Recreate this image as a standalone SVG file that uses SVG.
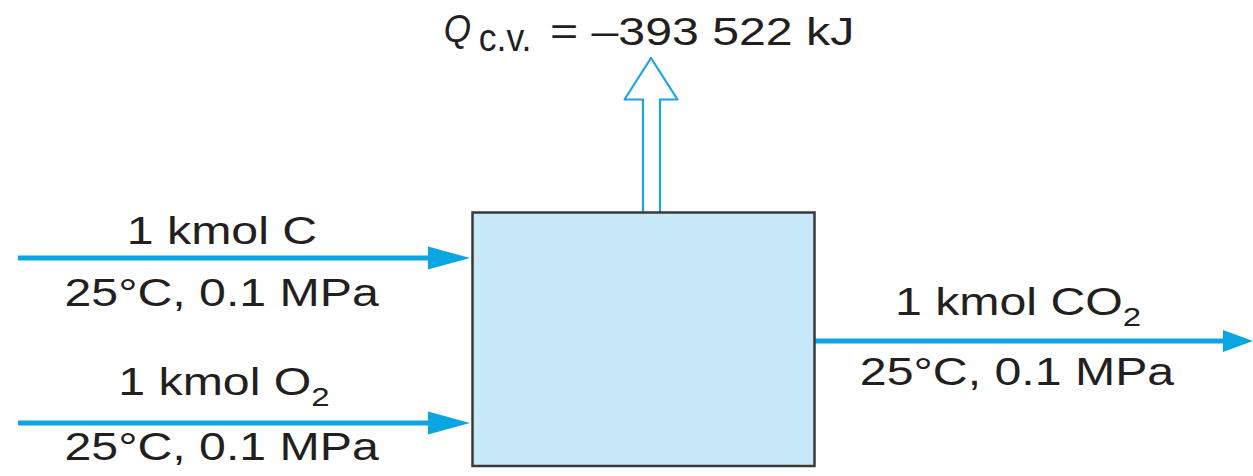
<svg xmlns="http://www.w3.org/2000/svg" width="1253" height="476" viewBox="0 0 1253 476">
<style>
  .lbl { font-family: "Liberation Sans", Arial, sans-serif; font-size: 38px; fill: #231f20; }
  .sub { font-size: 26px; }
  .flow { stroke: #0aa6e2; stroke-width: 5; fill: none; }
  .head { fill: #0aa6e2; }
</style>
<rect width="1253" height="476" fill="#ffffff"/>
<g id="connectors">
  <line class="flow" x1="18" y1="258" x2="432" y2="258"/>
  <polygon class="head" points="428,246.5 470,258 428,269.5"/>
  <line class="flow" x1="18" y1="423" x2="432" y2="423"/>
  <polygon class="head" points="428,411.5 470,423 428,434.5"/>
  <line class="flow" x1="815" y1="341" x2="1226" y2="341"/>
  <polygon class="head" points="1223,330 1253,341 1223,352"/>
  <polygon points="643,213 643,99.5 624.5,99.5 651,58 677.5,99.5 660,99.5 660,213" fill="#ffffff" stroke="#1aa6dc" stroke-width="2.2" stroke-linejoin="round"/>
</g>
<g id="control-volume">
  <rect x="472.5" y="212.5" width="342" height="253.5" fill="#c8e9f8" stroke="#3a3a3a" stroke-width="2.5"/>
</g>
<g id="heat-label" transform="scale(1.27,1)">
  <text class="lbl" x="349.5" y="42" font-size="36" font-style="italic" textLength="21.5" lengthAdjust="spacingAndGlyphs">Q</text>
  <text class="lbl" x="377" y="51" font-size="27" textLength="41.5" lengthAdjust="spacingAndGlyphs">c.v.</text>
  <text class="lbl" x="433" y="45">= –393 522 kJ</text>
</g>
<g id="inlet-C" transform="scale(1.27,1)">
  <text class="lbl" x="174.8" y="244" text-anchor="middle">1 kmol C</text>
  <text class="lbl" x="174.5" y="306" text-anchor="middle">25°C, 0.1 MPa</text>
</g>
<g id="inlet-O2" transform="scale(1.27,1)">
  <text class="lbl" x="176.4" y="395" text-anchor="middle">1 kmol O<tspan class="sub" dy="11">2</tspan></text>
  <text class="lbl" x="174.5" y="460" text-anchor="middle">25°C, 0.1 MPa</text>
</g>
<g id="outlet-CO2" transform="scale(1.27,1)">
  <text class="lbl" x="801.6" y="315" text-anchor="middle">1 kmol CO<tspan class="sub" dy="11">2</tspan></text>
  <text class="lbl" x="800.8" y="385" text-anchor="middle">25°C, 0.1 MPa</text>
</g>
</svg>
